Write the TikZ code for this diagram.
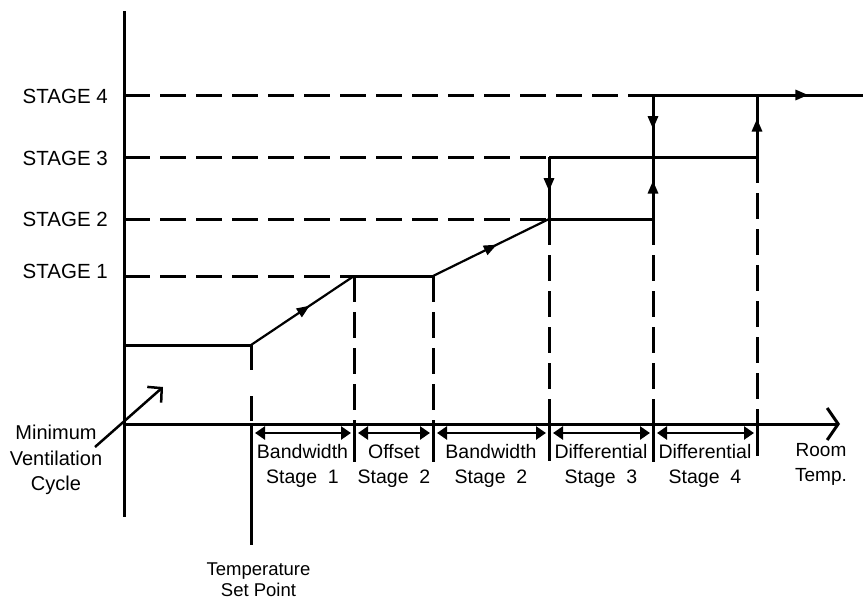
\documentclass[tikz,border=0pt]{standalone}
\usepackage{fontspec}
\setmainfont{Liberation Sans}
\usetikzlibrary{arrows.meta,decorations.markings}
\begin{document}
\begin{tikzpicture}[x=1pt,y=-1pt,
  ln/.style={line width=3pt},
  dsh/.style={line width=3pt, dash pattern=on 26pt off 10pt},
  rampline/.style={line width=2.2pt},
  midarrow/.style={postaction={decorate}, decoration={markings,
      mark=at position #1 with {\arrow{Triangle[length=13pt,width=10pt]}}}},
  dimarrow/.style={line width=2.5pt,
      {Triangle[length=10pt,width=13pt]}-{Triangle[length=10pt,width=13pt]}},
  stagelbl/.style={font=\fontsize{20.5}{24}\selectfont, anchor=east, inner sep=0pt},
  botlbl/.style={font=\fontsize{19.5}{24.5}\selectfont, align=center, anchor=north, inner sep=0pt},
  sidelbl/.style={font=\fontsize{20}{25.5}\selectfont, align=center, anchor=north, inner sep=0pt},
]
\useasboundingbox (0,0) rectangle (863,600);

% axes
\coordinate (Ytop) at (124,11);
\coordinate (Ybot) at (124,517);
\coordinate (O) at (124,424);
\coordinate (Xend) at (840,424);
\draw[ln] (Ytop) -- (Ybot);
\draw[ln, -{Straight Barb[length=11pt,width=32pt]}] (O) -- (Xend);

% level starts on the axis
\coordinate (L0) at (124,345);
\coordinate (L1) at (124,276);
\coordinate (L2) at (124,219);
\coordinate (L3) at (124,157);
\coordinate (L4) at (124,95);

% key points
\coordinate (A0) at (251,345);
\coordinate (B1) at (354,276);
\coordinate (C1) at (433,276);
\coordinate (D2) at (549,219);
\coordinate (D3) at (549,157);
\coordinate (E2) at (653,219);
\coordinate (E3) at (653,157);
\coordinate (E4) at (653,95);
\coordinate (F3) at (757,157);
\coordinate (F4) at (757,95);
\coordinate (Rend) at (863,95);

% points on the room temperature axis
\coordinate (Aa) at (251,424);
\coordinate (Ba) at (354,424);
\coordinate (Ca) at (433,424);
\coordinate (Da) at (549,424);
\coordinate (Ea) at (653,424);
\coordinate (Fa) at (757,424);
% tick ends below the axis
\coordinate (Ab) at (251,545);
\coordinate (Bb) at (354,462);
\coordinate (Cb) at (433,462);
\coordinate (Db) at (549,461);
\coordinate (Eb) at (653,462);
\coordinate (Fb) at (757,456);

% dashed stage levels
\draw[dsh] (L1) -- (B1);
\draw[dsh] (L2) -- (D2);
\draw[dsh] (L3) -- (D3);
\draw[dsh] (L4) -- (E4);

% dashed verticals down to the axis
\draw[line width=3pt, dash pattern=on 25pt off 26pt] (A0) -- (Aa);
\draw[dsh] (B1) -- (Ba);
\draw[dsh] (C1) -- (Ca);
\draw[dsh] (D2) -- (Da);
\draw[dsh] (E2) -- (Ea);
\draw[dsh] (F3) -- (Fa);

% solid ticks below the axis
\draw[ln] (Aa) -- (Ab);
\draw[ln] (Ba) -- (Bb);
\draw[ln] (Ca) -- (Cb);
\draw[ln] (Da) -- (Db);
\draw[ln] (Ea) -- (Eb);
\draw[ln] (Fa) -- (Fb);

% solid operating path
\draw[ln] (L0) -- (A0);
\draw[rampline, midarrow=0.57] (A0) -- (B1);
\draw[ln] (B1) -- (C1);
\draw[rampline, midarrow=0.55] (C1) -- (D2);
\draw[ln] (D2) -- (E2);
\draw[ln] (D3) -- (F3);
\draw[ln, midarrow=0.74] (E4) -- (Rend);
\draw[ln, midarrow=0.55] (D3) -- (D2);
\draw[ln, midarrow=0.55] (E4) -- (E3);
\draw[ln, midarrow=0.62] (E2) -- (E3);
\draw[ln, midarrow=0.62] (F3) -- (F4);

% dimension arrows
\coordinate (d1l) at (255,433); \coordinate (d1r) at (351,433);
\coordinate (d2l) at (358,433); \coordinate (d2r) at (430,433);
\coordinate (d3l) at (437,433); \coordinate (d3r) at (546,433);
\coordinate (d4l) at (553,433); \coordinate (d4r) at (650,433);
\coordinate (d5l) at (657,433); \coordinate (d5r) at (754,433);
\draw[dimarrow] (d1l) -- (d1r);
\draw[dimarrow] (d2l) -- (d2r);
\draw[dimarrow] (d3l) -- (d3r);
\draw[dimarrow] (d4l) -- (d4r);
\draw[dimarrow] (d5l) -- (d5r);

% minimum ventilation pointer
\coordinate (mvs) at (95,447);
\coordinate (mve) at (163,387);
\draw[line width=2.5pt, -{Straight Barb[length=10pt,width=21pt]}] (mvs) -- (mve);

% stage labels
\node[stagelbl] (s4) at (108,96.5) {STAGE 4};
\node[stagelbl] (s3) at (108,158.5) {STAGE 3};
\node[stagelbl] (s2) at (108,219.5) {STAGE 2};
\node[stagelbl] (s1) at (108,271) {STAGE 1};

% bottom labels
\node[botlbl] (b1) at (302.5,444.5) {Bandwidth\\Stage\ \ 1};
\node[botlbl] (b2) at (394,444.5) {Offset\\Stage\ \ 2};
\node[botlbl] (b3) at (491,444.5) {Bandwidth\\Stage\ \ 2};
\node[botlbl] (b4) at (601,444.5) {Differential\\Stage\ \ 3};
\node[botlbl] (b5) at (705,444.5) {Differential\\Stage\ \ 4};
\node[font=\fontsize{19}{25}\selectfont, align=center, anchor=north, inner sep=0pt] (room) at (821,443.5) {Room\\Temp.};

\node[sidelbl] (mv) at (56,425) {Minimum\\Ventilation\\Cycle};
\node[font=\fontsize{18.5}{20.5}\selectfont, align=center, anchor=north, inner sep=0pt] (tsp) at (258.5,563) {Temperature\\Set Point};
\end{tikzpicture}
\end{document}
